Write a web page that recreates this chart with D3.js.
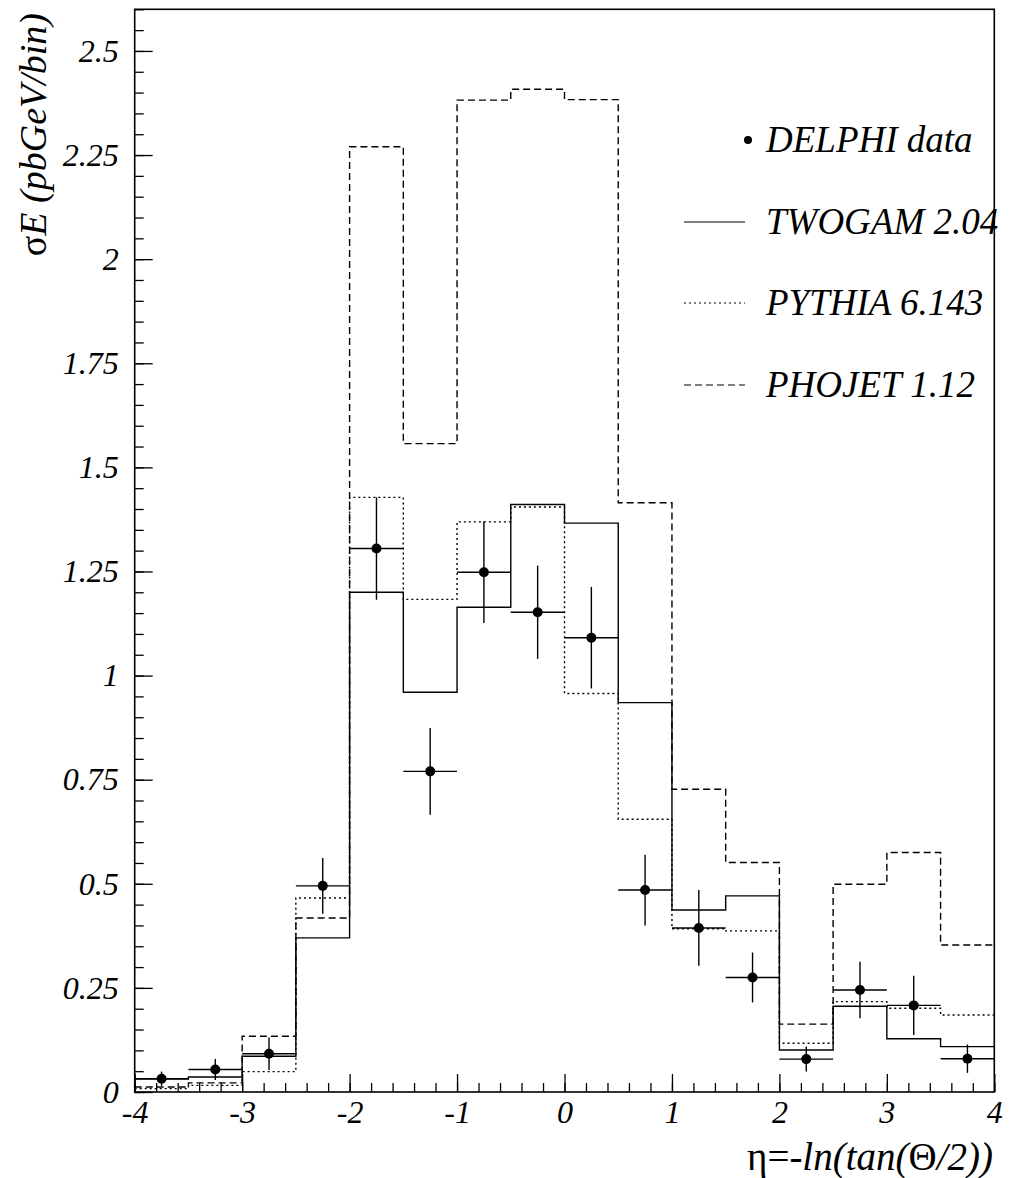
<!DOCTYPE html>
<html>
<head>
<meta charset="utf-8">
<script src="https://cdn.jsdelivr.net/npm/d3@7"></script>
<style>
  body { margin: 0; background: #fff; }
  svg { display: block; }
</style>
</head>
<body>
<div id="chart"></div>
<script>
// bin edges (eta), 16 bins of width 0.5
var binLo = [-4, -3.5, -3, -2.5, -2, -1.5, -1, -0.5, 0, 0.5, 1, 1.5, 2, 2.5, 3, 3.5];
var binWidth = 0.5;

// DELPHI data points and errors
var dataVal = [0.032, 0.054, 0.092, 0.495, 1.305, 0.770, 1.248, 1.152, 1.091, 0.485, 0.394, 0.275, 0.079, 0.245, 0.208, 0.080];
var dataErr = [0.017, 0.025, 0.039, 0.067, 0.123, 0.104, 0.122, 0.112, 0.122, 0.085, 0.091, 0.060, 0.030, 0.068, 0.071, 0.034];

// model predictions
var twogam = [0.031, 0.036, 0.086, 0.370, 1.200, 0.960, 1.164, 1.411, 1.366, 0.935, 0.437, 0.471, 0.101, 0.206, 0.128, 0.109];
var pythia = [0.008, 0.016, 0.049, 0.466, 1.428, 1.183, 1.369, 1.405, 0.957, 0.655, 0.392, 0.387, 0.117, 0.217, 0.201, 0.185];
var phojet = [0.012, 0.022, 0.134, 0.418, 2.270, 1.557, 2.382, 2.408, 2.383, 1.415, 0.727, 0.551, 0.163, 0.499, 0.575, 0.353];

var xTicks = [-4, -3, -2, -1, 0, 1, 2, 3, 4];
var yTicks = [0, 0.25, 0.5, 0.75, 1, 1.25, 1.5, 1.75, 2, 2.25, 2.5];
var yTickLabels = ["0", "0.25", "0.5", "0.75", "1", "1.25", "1.5", "1.75", "2", "2.25", "2.5"];

var legendNames = ["DELPHI data", "TWOGAM 2.04", "PYTHIA 6.143", "PHOJET 1.12"];

var FONT = "'Liberation Serif', 'Times New Roman', Tinos, Times, 'DejaVu Serif', serif";

var W = 1015, H = 1178;
var margin = {top: 9.3, right: 20.7, bottom: 86, left: 134.7};
var width = W - margin.left - margin.right;
var height = H - margin.top - margin.bottom;

var svg = d3.select("#chart").append("svg")
    .attr("width", W)
    .attr("height", H);

var g = svg.append("g")
    .attr("transform", "translate(" + margin.left + "," + margin.top + ")");

var x = d3.scaleLinear().domain([-4, 4]).range([0, width]);
var y = d3.scaleLinear().domain([0, 2.6]).range([height, 0]);

// minor ticks
var xMinor = d3.range(-4, 4.001, 0.2).map(function(d){ return +d.toFixed(2); });
var yMinor = d3.range(0, 2.6001, 0.05).map(function(d){ return +d.toFixed(2); });

g.append("g")
    .attr("transform", "translate(0," + height + ")")
    .call(d3.axisBottom(x).tickValues(xMinor).tickSize(-9).tickFormat(""))
    .call(function(s){ s.select(".domain").remove(); });

g.append("g")
    .call(d3.axisLeft(y).tickValues(yMinor).tickSize(-9).tickFormat(""))
    .call(function(s){ s.select(".domain").remove(); });

// major ticks + labels
var xAxis = g.append("g")
    .attr("transform", "translate(0," + height + ")")
    .call(d3.axisBottom(x).tickValues(xTicks).tickSize(-18).tickPadding(8)
        .tickFormat(function(d){ return d < 0 ? "-" + Math.abs(d) : d; }));
xAxis.select(".domain").remove();

var yAxis = g.append("g")
    .call(d3.axisLeft(y).tickValues(yTicks).tickSize(-18).tickPadding(16)
        .tickFormat(function(d, i){ return yTickLabels[i]; }));
yAxis.select(".domain").remove();

[xAxis, yAxis].forEach(function(a) {
    a.attr("font-family", null).attr("font-size", null);
    a.selectAll("text")
        .style("font-family", FONT)
        .style("font-size", "32px")
        .style("font-style", "italic")
        .attr("fill", "#000");
});

g.selectAll(".tick line").attr("stroke", "#000").attr("stroke-width", 1.3);

// frame
g.append("rect")
    .attr("x", 0).attr("y", 0)
    .attr("width", width).attr("height", height)
    .attr("fill", "none")
    .attr("stroke", "#000")
    .attr("stroke-width", 1.6);

// step histograms
function histPoints(vals) {
    var pts = [];
    vals.forEach(function(v, i) {
        pts.push([binLo[i], v]);
        pts.push([binLo[i] + binWidth, v]);
    });
    return pts;
}
var line = d3.line()
    .x(function(d){ return x(d[0]); })
    .y(function(d){ return y(d[1]); });

var models = [
    {vals: phojet, dash: "7,4"},
    {vals: pythia, dash: "2,3"},
    {vals: twogam, dash: null}
];
models.forEach(function(m) {
    g.append("path")
        .attr("d", line(histPoints(m.vals)))
        .attr("fill", "none")
        .attr("stroke", "#000")
        .attr("stroke-width", 1.4)
        .attr("stroke-dasharray", m.dash);
});

// data points with error bars
var pts = g.append("g").selectAll("g")
    .data(dataVal)
    .enter().append("g");
pts.append("line")
    .attr("x1", function(d, i){ return x(binLo[i]); })
    .attr("x2", function(d, i){ return x(binLo[i] + binWidth); })
    .attr("y1", function(d){ return y(d); })
    .attr("y2", function(d){ return y(d); })
    .attr("stroke", "#000").attr("stroke-width", 1.4);
pts.append("line")
    .attr("x1", function(d, i){ return x(binLo[i] + binWidth / 2); })
    .attr("x2", function(d, i){ return x(binLo[i] + binWidth / 2); })
    .attr("y1", function(d, i){ return y(d - dataErr[i]); })
    .attr("y2", function(d, i){ return y(d + dataErr[i]); })
    .attr("stroke", "#000").attr("stroke-width", 1.4);
pts.append("circle")
    .attr("cx", function(d, i){ return x(binLo[i] + binWidth / 2); })
    .attr("cy", function(d){ return y(d); })
    .attr("r", 5)
    .attr("fill", "#000");

// legend
var legY = [140, 222, 303, 385];
var leg = svg.append("g");
leg.append("circle").attr("cx", 748).attr("cy", legY[0]).attr("r", 4).attr("fill", "#000");
var legDash = [null, null, "2,3", "7,4"];
for (var i = 1; i < 4; i++) {
    leg.append("line")
        .attr("x1", 684).attr("x2", 745)
        .attr("y1", legY[i]).attr("y2", legY[i])
        .attr("stroke", "#000").attr("stroke-width", 1.2)
        .attr("stroke-dasharray", legDash[i]);
}
leg.selectAll("text")
    .data(legendNames)
    .enter().append("text")
    .attr("x", 766)
    .attr("y", function(d, i){ return legY[i] + 12; })
    .style("font-family", FONT)
    .style("font-size", "37px")
    .style("font-style", "italic")
    .text(function(d){ return d; });

// axis titles
var xt = svg.append("text")
    .attr("x", 993).attr("y", 1170)
    .attr("text-anchor", "end")
    .style("font-family", FONT)
    .style("font-size", "39px");
xt.append("tspan").text("\u03B7=");
xt.append("tspan").style("font-style", "italic").text("-ln(tan(");
xt.append("tspan").text("\u0398");
xt.append("tspan").style("font-style", "italic").text("/2))");

var yt = svg.append("text")
    .attr("transform", "translate(46,13) rotate(-90)")
    .attr("text-anchor", "end")
    .style("font-family", FONT)
    .style("font-size", "38px");
yt.append("tspan").text("\u03C3");
yt.append("tspan").style("font-style", "italic").text("E (pbGeV/bin)");
</script>
</body>
</html>
